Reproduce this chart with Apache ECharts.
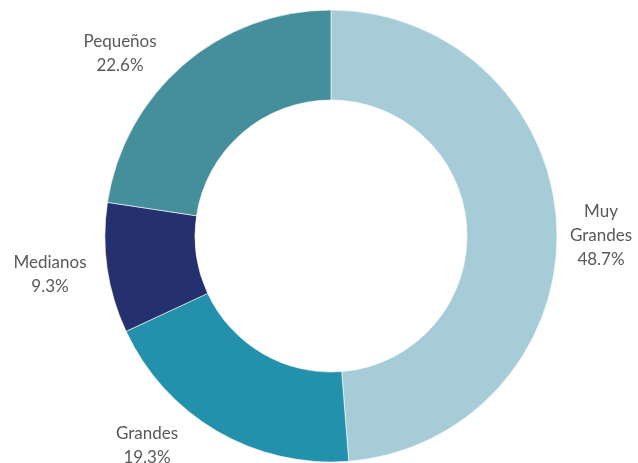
<!DOCTYPE html>
<html>
<head>
<meta charset="utf-8">
<script src="https://cdn.jsdelivr.net/npm/echarts@6/dist/echarts.min.js"></script>
<style>
  html, body { margin: 0; padding: 0; background: #ffffff; }
  #chart { width: 638px; height: 463px; }
</style>
</head>
<body>
<div id="chart"></div>
<script>
// Share of companies by size (percent)
const categories = ['Muy\nGrandes', 'Grandes', 'Medianos', 'Pequeños'];
const shares = [48.7, 19.3, 9.3, 22.6];
const colors = ['#a6cdd7', '#2391ab', '#25306e', '#458e9b'];

// Label centres placed around the ring
const labelSpots = [[601, 236], [147, 446], [50, 275], [120, 54]];

const chart = echarts.init(document.getElementById('chart'), null, { renderer: 'canvas' });

chart.setOption({
  animation: false,
  series: [{
    type: 'pie',
    center: [331, 236],
    radius: [136, 226],
    startAngle: 90,
    clockwise: true,
    avoidLabelOverlap: false,
    itemStyle: { borderColor: '#ffffff', borderWidth: 0.6 },
    label: {
      show: true,
      position: 'outside',
      formatter: p => p.name + '\n' + p.value.toFixed(1) + '%',
      color: '#595959',
      fontFamily: 'Lato',
      fontSize: 17,
      lineHeight: 24,
      align: 'center'
    },
    labelLine: { show: false },
    labelLayout: params => {
      const s = labelSpots[params.dataIndex];
      return { x: s[0], y: s[1], align: 'center', verticalAlign: 'middle' };
    },
    emphasis: { disabled: true },
    data: categories.map((c, i) => ({
      name: c,
      value: shares[i],
      itemStyle: { color: colors[i] }
    }))
  }]
});
</script>
</body>
</html>
